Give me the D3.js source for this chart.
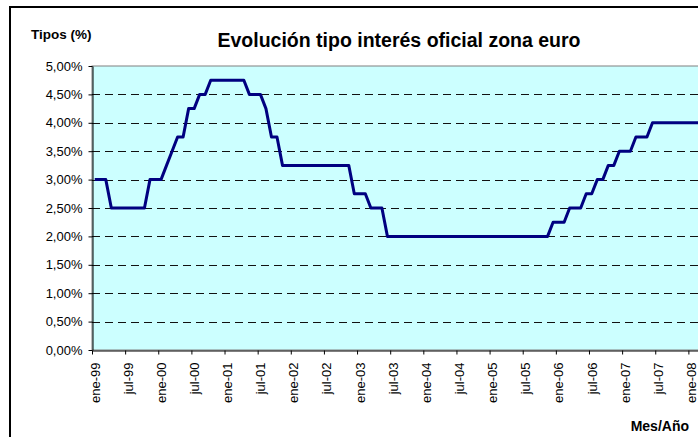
<!DOCTYPE html>
<html>
<head>
<meta charset="utf-8">
<script src="https://cdn.jsdelivr.net/npm/d3@7"></script>
<style>
  html, body { margin: 0; padding: 0; background: #fff; overflow: hidden; }
  svg { display: block; font-family: Arial, "Liberation Sans", sans-serif; }
</style>
</head>
<body>
<svg id="chart" width="698" height="437"></svg>
<script>
// ---- Data ----
const monthNames = ["ene","feb","mar","abr","may","jun","jul","ago","sep","oct","nov","dic"];
const years = ["99","00","01","02","03","04","05","06","07","08"];
// Monthly official ECB rate (%), ene-99 .. mar-08
const rates1999 = [3.00,3.00,3.00,2.50,2.50,2.50,2.50,2.50,2.50,2.50,3.00,3.00];
const rates2000 = [3.00,3.25,3.50,3.75,3.75,4.25,4.25,4.50,4.50,4.75,4.75,4.75];
const rates2001 = [4.75,4.75,4.75,4.75,4.50,4.50,4.50,4.25,3.75,3.75,3.25,3.25];
const rates2002 = [3.25,3.25,3.25,3.25,3.25,3.25,3.25,3.25,3.25,3.25,3.25,2.75];
const rates2003 = [2.75,2.75,2.50,2.50,2.50,2.00,2.00,2.00,2.00,2.00,2.00,2.00];
const rates2004 = [2.00,2.00,2.00,2.00,2.00,2.00,2.00,2.00,2.00,2.00,2.00,2.00];
const rates2005 = [2.00,2.00,2.00,2.00,2.00,2.00,2.00,2.00,2.00,2.00,2.00,2.25];
const rates2006 = [2.25,2.25,2.50,2.50,2.50,2.75,2.75,3.00,3.00,3.25,3.25,3.50];
const rates2007 = [3.50,3.50,3.75,3.75,3.75,4.00,4.00,4.00,4.00,4.00,4.00,4.00];
const rates2008 = [4.00,4.00,4.00];
const rates = [].concat(rates1999, rates2000, rates2001, rates2002, rates2003,
                        rates2004, rates2005, rates2006, rates2007, rates2008);
const categories = rates.map((v, i) => monthNames[i % 12] + "-" + years[Math.floor(i / 12)]);
const tickLabels = ["ene-99","jul-99","ene-00","jul-00","ene-01","jul-01","ene-02","jul-02",
                    "ene-03","jul-03","ene-04","jul-04","ene-05","jul-05","ene-06","jul-06",
                    "ene-07","jul-07","ene-08"];
const yTicks = [0, 0.5, 1.0, 1.5, 2.0, 2.5, 3.0, 3.5, 4.0, 4.5, 5.0];

const title = "Evolución tipo interés oficial zona euro";
const yTitle = "Tipos (%)";
const xTitle = "Mes/Año";

// ---- Layout ----
const svg = d3.select("#chart");
const plotLeft = 92, plotTop = 66, plotBottom = 350;
const monthW = 5.522;
const plotRight = plotLeft + rates.length * monthW;

const x = d3.scaleLinear().domain([0, rates.length]).range([plotLeft, plotRight]);
const y = d3.scaleLinear().domain([0, 5]).range([plotBottom, plotTop]);

// outer chart frame
svg.append("rect")
  .attr("x", 10).attr("y", 7)
  .attr("width", 760).attr("height", 480)
  .attr("fill", "#fff").attr("stroke", "#000").attr("stroke-width", 2);

// plot area
svg.append("rect")
  .attr("x", plotLeft).attr("y", plotTop)
  .attr("width", plotRight - plotLeft).attr("height", plotBottom - plotTop)
  .attr("fill", "#CCFFFF").attr("stroke", "#808080").attr("stroke-width", 1);

// gridlines
svg.append("g")
  .selectAll("line")
  .data(yTicks.filter(t => t > 0 && t < 5))
  .join("line")
  .attr("x1", plotLeft).attr("x2", plotRight)
  .attr("y1", d => Math.round(y(d)) + 0.5).attr("y2", d => Math.round(y(d)) + 0.5)
  .attr("stroke", "#111").attr("stroke-width", 1)
  .attr("stroke-dasharray", "8,5");

// y axis
const fmt = v => v.toFixed(2).replace(".", ",") + "%";
const yAxis = svg.append("g")
  .attr("transform", `translate(${plotLeft + 0.5},0)`)
  .call(d3.axisLeft(y).tickValues(yTicks).tickFormat(fmt).tickSizeOuter(0).tickSizeInner(4).tickPadding(6));
yAxis.select(".domain").attr("stroke", "#000");
yAxis.selectAll(".tick line").attr("stroke", "#000");
yAxis.selectAll("text").attr("font-size", 13).attr("fill", "#000")
  .attr("font-family", "Arial, 'Liberation Sans', sans-serif");

// x axis
const tickIdx = tickLabels.map(l => categories.indexOf(l));
const xAxis = svg.append("g")
  .attr("transform", `translate(0,${plotBottom + 0.5})`)
  .call(d3.axisBottom(x).tickValues(tickIdx).tickFormat(i => categories[i])
        .tickSizeOuter(0).tickSizeInner(4));
xAxis.select(".domain").attr("stroke", "#000");
xAxis.selectAll(".tick line").attr("stroke", "#000");
xAxis.selectAll("text")
  .attr("font-size", 13).attr("fill", "#000")
  .attr("font-family", "Arial, 'Liberation Sans', sans-serif")
  .attr("text-anchor", "end")
  .attr("transform", "rotate(-90)")
  .attr("x", -12).attr("y", 2.5).attr("dy", "0.35em");

// data line
const line = d3.line()
  .x((d, i) => x(i + 0.5))
  .y(d => y(d));
svg.append("path")
  .datum(rates)
  .attr("d", line)
  .attr("fill", "none")
  .attr("stroke", "#000080")
  .attr("stroke-width", 3)
  .attr("stroke-linejoin", "round");

// titles
svg.append("text")
  .attr("x", 399).attr("y", 47)
  .attr("text-anchor", "middle")
  .attr("font-size", 19.5).attr("font-weight", "bold")
  .text(title);

svg.append("text")
  .attr("x", 31).attr("y", 39)
  .attr("font-size", 13.5).attr("font-weight", "bold")
  .text(yTitle);

svg.append("text")
  .attr("x", 689).attr("y", 430.5)
  .attr("text-anchor", "end")
  .attr("font-size", 14).attr("font-weight", "bold")
  .text(xTitle);
</script>
</body>
</html>
